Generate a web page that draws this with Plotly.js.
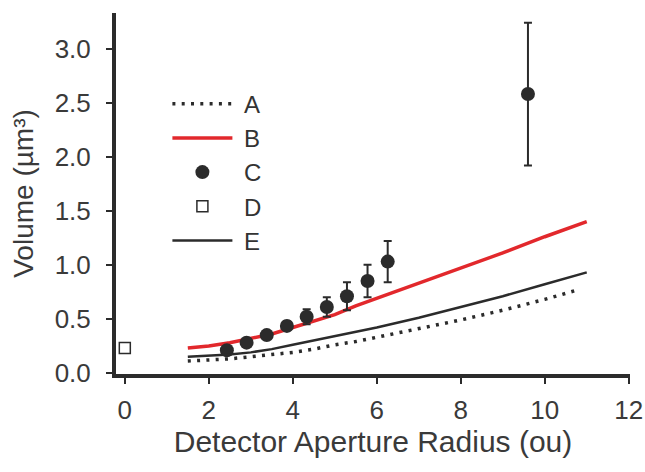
<!DOCTYPE html>
<html><head><meta charset="utf-8">
<script src="https://cdn.plot.ly/plotly-3.0.1.min.js"></script>
<style>body{margin:0;background:#fff}#chart{width:645px;height:472px}</style>
</head><body><div id="chart"></div>
<script>
// Model curves
const xA = [1.5, 2, 2.5, 3, 3.5, 4, 4.5, 5, 5.5, 6, 7, 8, 9, 10, 10.8];
const yA = [0.11, 0.12, 0.13, 0.15, 0.17, 0.19, 0.22, 0.26, 0.29, 0.33, 0.41, 0.49, 0.58, 0.68, 0.77];
const xB = [1.5, 2, 2.5, 3, 3.5, 4, 4.5, 5, 5.5, 6, 7, 8, 9, 10, 11];
const yB = [0.23, 0.25, 0.28, 0.32, 0.36, 0.42, 0.48, 0.54, 0.62, 0.69, 0.83, 0.97, 1.11, 1.26, 1.40];
const xE = [1.5, 2, 2.5, 3, 3.5, 4, 4.5, 5, 5.5, 6, 7, 8, 9, 10, 11];
const yE = [0.15, 0.16, 0.17, 0.19, 0.22, 0.26, 0.30, 0.34, 0.38, 0.42, 0.51, 0.61, 0.71, 0.82, 0.93];
// Measured points
const xC = [2.43, 2.9, 3.38, 3.86, 4.33, 4.81, 5.29, 5.78, 6.26, 9.6];
const yC = [0.21, 0.28, 0.35, 0.435, 0.52, 0.61, 0.71, 0.85, 1.03, 2.58];
const eC = [0.03, 0.03, 0.03, 0.04, 0.07, 0.09, 0.13, 0.15, 0.19, 0.66];
const xD = [0];
const yD = [0.23];
const names = ['A', 'B', 'C', 'D', 'E'];
const xTicks = [0, 2, 4, 6, 8, 10, 12];
const xTickText = ['0', '2', '4', '6', '8', '10', '12'];
const yTicks = [0, 0.5, 1, 1.5, 2, 2.5, 3];
const yTickText = ['0.0', '0.5', '1.0', '1.5', '2.0', '2.5', '3.0'];

const ink = '#2b2b2b';
const pad = '\u00a0';
const traces = [
  {x: xA, y: yA, name: pad + names[0], mode: 'lines', line: {color: ink, width: 3.5, dash: '3px,6.3px'}},
  {x: xB, y: yB, name: pad + names[1], mode: 'lines', line: {color: '#e2282c', width: 3.5}},
  {x: xC, y: yC, name: pad + names[2], mode: 'markers', marker: {color: ink, size: 14},
   error_y: {type: 'data', array: eC, visible: true, color: ink, thickness: 2, width: 4}},
  {x: xD, y: yD, name: pad + names[3], mode: 'markers', marker: {symbol: 'square-open', color: ink, size: 11, line: {width: 1.5}}},
  {x: xE, y: yE, name: pad + names[4], mode: 'lines', line: {color: ink, width: 2.5}}
];
const fam = '"Liberation Sans", Arial, sans-serif';
const txt = '#3a3a3a';
const layout = {
  width: 645, height: 472,
  margin: {l: 116, r: 15, t: 13, b: 98},
  paper_bgcolor: '#fff', plot_bgcolor: '#fff',
  font: {family: fam, color: txt},
  showlegend: true,
  legend: {x: 0.10, y: 0.81, xanchor: 'left', yanchor: 'top', bgcolor: 'rgba(0,0,0,0)',
    font: {size: 24, family: fam, color: '#333'}, itemwidth: 60, tracegroupgap: 0},
  xaxis: {range: [-0.21, 12.03], tickvals: xTicks, ticktext: xTickText,
    showgrid: false, zeroline: false, showline: true, linewidth: 4, linecolor: ink,
    ticks: 'outside', ticklen: 6, tickwidth: 2, tickcolor: ink, ticklabelstandoff: 4,
    tickfont: {size: 26, family: fam, color: txt},
    title: {text: 'Detector Aperture Radius (ou)', font: {size: 30, family: fam, color: txt}, standoff: 8}},
  yaxis: {range: [-0.01, 3.33], tickvals: yTicks, ticktext: yTickText,
    showgrid: false, zeroline: false, showline: true, linewidth: 4, linecolor: ink,
    ticks: 'outside', ticklen: 6, tickwidth: 2, tickcolor: ink, ticklabelstandoff: 10,
    tickfont: {size: 26, family: fam, color: txt},
    title: {text: 'Volume (µm³)', font: {size: 28, family: fam, color: txt}, standoff: 14}}
};
Plotly.newPlot('chart', traces, layout, {displayModeBar: false, staticPlot: true});
</script></body></html>
